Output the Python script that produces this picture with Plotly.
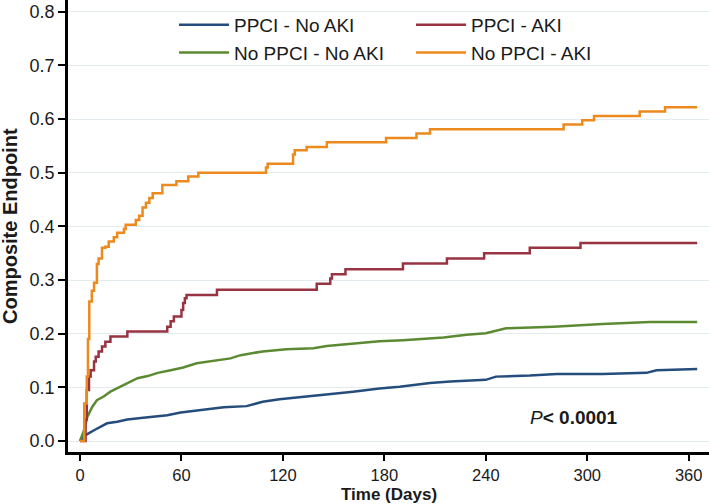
import plotly.graph_objects as go

# ---- data ----
ppci_no_aki_days = [0, 3.3, 8.3, 12, 16, 22, 28, 36, 44, 51.6, 59.5, 71, 85, 98.5, 108, 118, 134, 146,
                    161.5, 177, 189, 207, 219, 240, 246, 266, 282, 309, 335, 341, 357, 365]
ppci_no_aki_vals = [0, 0.011, 0.02, 0.027, 0.033, 0.036, 0.04, 0.043, 0.045, 0.048, 0.053, 0.058, 0.063,
                    0.065, 0.073, 0.078, 0.083, 0.088, 0.092, 0.098, 0.101, 0.108, 0.111, 0.114, 0.12,
                    0.122, 0.125, 0.125, 0.127, 0.132, 0.134, 0.134]

no_ppci_no_aki_days = [0, 2.4, 4.3, 7.3, 10, 14, 18, 22, 28, 34, 40, 46, 53.6, 61, 69, 79, 89, 95, 108,
                       122, 138, 146, 158, 177, 191, 215, 228.6, 240, 252, 280, 309, 337, 365]
no_ppci_no_aki_vals = [0, 0.02, 0.045, 0.064, 0.076, 0.083, 0.092, 0.098, 0.108, 0.117, 0.121, 0.127,
                       0.132, 0.137, 0.145, 0.149, 0.154, 0.16, 0.167, 0.171, 0.173, 0.177, 0.181, 0.186,
                       0.188, 0.193, 0.198, 0.201, 0.21, 0.213, 0.218, 0.222, 0.222]

ppci_aki_days = [0, 3.3, 4, 5.3, 6.3, 8.3, 9.3, 11, 13, 15, 18, 28, 51.6, 53.6, 55.5, 60, 61, 62, 63,
                 81, 140, 148, 149, 157, 191, 217, 239, 266, 296, 365]
ppci_aki_vals = [0, 0.04, 0.095, 0.12, 0.132, 0.148, 0.157, 0.167, 0.176, 0.185, 0.195, 0.204, 0.213,
                 0.223, 0.232, 0.244, 0.257, 0.266, 0.272, 0.282, 0.293, 0.303, 0.311, 0.32, 0.331,
                 0.34, 0.35, 0.36, 0.369, 0.369]

no_ppci_aki_days = [0, 2.5, 4, 4.7, 5.5, 7, 8.3, 10, 11, 13, 15, 17, 20, 22, 26, 27, 33, 35, 37, 39, 41,
                    43, 48.7, 57, 64, 70, 110, 111, 126, 127, 134, 146, 181, 199, 207, 286, 297, 304,
                    331, 346, 365]
no_ppci_aki_vals = [0, 0.07, 0.12, 0.19, 0.26, 0.28, 0.295, 0.33, 0.34, 0.36, 0.362, 0.372, 0.38, 0.388,
                    0.395, 0.403, 0.412, 0.42, 0.435, 0.444, 0.453, 0.462, 0.477, 0.484, 0.493, 0.50,
                    0.51, 0.517, 0.534, 0.542, 0.548, 0.557, 0.565, 0.573, 0.581, 0.59, 0.598, 0.606,
                    0.614, 0.622, 0.622]

x_ticks = [0, 60, 120, 180, 240, 300, 360]
y_ticks = [0.0, 0.1, 0.2, 0.3, 0.4, 0.5, 0.6, 0.7, 0.8]
y_tick_labels = ["0.0", "0.1", "0.2", "0.3", "0.4", "0.5", "0.6", "0.7", "0.8"]

FONT = "Liberation Sans, Arial, Helvetica, sans-serif"
W, H = 709, 504
ML, MR, MT, MB = 68, 0, 0, 52
PW, PH = W - ML - MR, H - MT - MB

fig = go.Figure()
series = [
    ("PPCI - No AKI", ppci_no_aki_days, ppci_no_aki_vals, "#254d7c", "linear", "legend"),
    ("No PPCI - No AKI", no_ppci_no_aki_days, no_ppci_no_aki_vals, "#5c8a33", "linear", "legend"),
    ("PPCI - AKI", ppci_aki_days, ppci_aki_vals, "#983342", "hv", "legend2"),
    ("No PPCI - AKI", no_ppci_aki_days, no_ppci_aki_vals, "#ec8a1e", "hv", "legend2"),
]
for name, xs, ys, col, shape, lg in series:
    fig.add_trace(go.Scatter(x=xs, y=ys, name=name, mode="lines",
                             line=dict(color=col, width=2.5, shape=shape),
                             legend=lg, hoverinfo="skip"))

# white box behind legend covering gridlines
fig.add_shape(type="rect", xref="paper", yref="paper",
              x0=(170 - ML) / PW, x1=(607 - ML) / PW, y0=(PH - 70) / PH, y1=1.0,
              fillcolor="white", line=dict(width=0), layer="between")

fig.add_annotation(x=265, y=0.043, xref="x", yref="y", xanchor="left", yanchor="middle",
                   showarrow=False,
                   text="<i>P</i><b>< 0.0001</b>",
                   font=dict(family=FONT, size=19, color="#1a1a1a"))

# axis titles
fig.add_annotation(x=(10 - ML) / PW, y=0.5, xref="paper", yref="paper",
                   xanchor="center", yanchor="middle", textangle=-90, showarrow=False,
                   text="<b>Composite Endpoint</b>",
                   font=dict(family=FONT, size=20, color="#1a1a1a"))
fig.add_annotation(x=0.5, y=(PH - 494.5) / PH, xref="paper", yref="paper",
                   xanchor="center", yanchor="middle", showarrow=False,
                   text="<b>Time (Days)</b>",
                   font=dict(family=FONT, size=17, color="#1a1a1a"))

leg_common = dict(bgcolor="rgba(0,0,0,0)", borderwidth=0, orientation="v",
                  xanchor="left", yanchor="top", itemwidth=50,
                  font=dict(family=FONT, size=19, color="#1a1a1a"))
fig.update_layout(
    width=W, height=H,
    margin=dict(l=ML, r=MR, t=MT, b=MB, pad=0, autoexpand=False),
    paper_bgcolor="white", plot_bgcolor="white",
    font=dict(family=FONT, color="#1a1a1a"),
    legend=dict(x=(174 - ML) / PW, y=1 - 6 / PH, **leg_common),
    legend2=dict(x=(411 - ML) / PW, y=1 - 6 / PH, **leg_common),
    xaxis=dict(range=[-7.1, 372], tickvals=x_ticks, ticks="outside", ticklen=6, tickwidth=2,
               tickcolor="black", showline=True, linecolor="black", linewidth=2.5,
               showgrid=False, zeroline=False, automargin=False,
               tickfont=dict(family=FONT, size=16.5, color="#1a1a1a")),
    yaxis=dict(range=[-0.0205, 0.822], tickvals=y_ticks, ticktext=y_tick_labels,
               ticks="outside", ticklen=7, tickwidth=2, tickcolor="black",
               showline=True, linecolor="black", linewidth=2.5, automargin=False,
               showgrid=True, gridcolor="#e4ebef", gridwidth=1, zeroline=False,
               tickfont=dict(family=FONT, size=18, color="#1a1a1a")),
)

fig.write_html("out.html",
               config={"displayModeBar": False},
               post_script="document.body.style.margin='0';document.body.style.padding='0';")
